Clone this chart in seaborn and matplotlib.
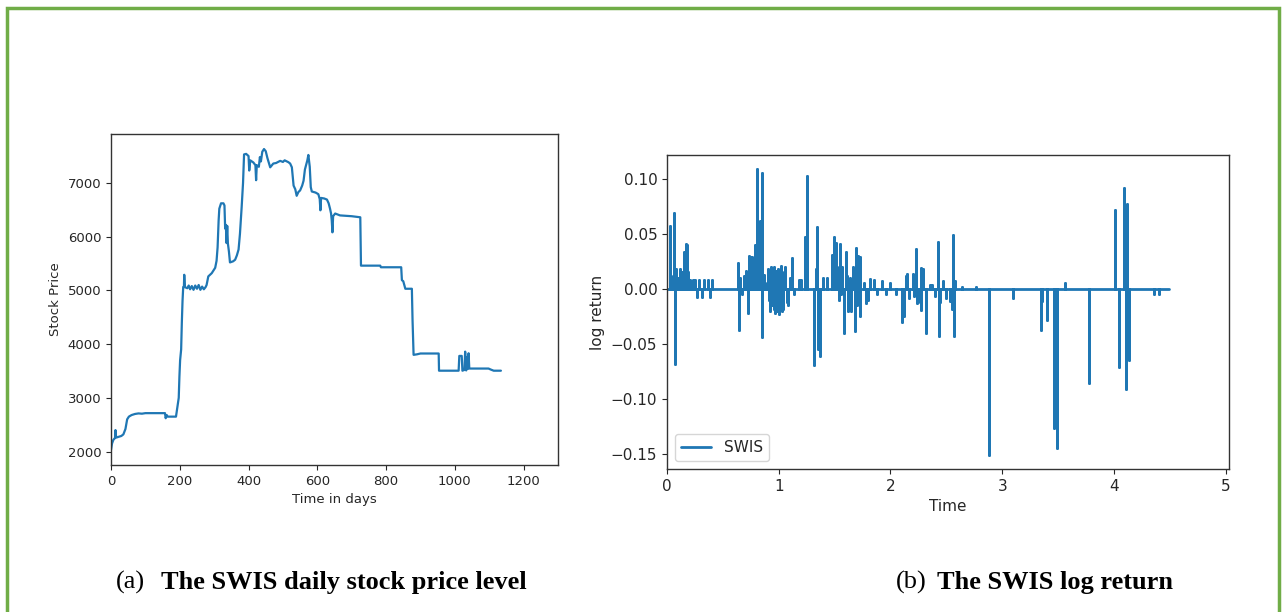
import matplotlib
matplotlib.use("Agg")
import matplotlib.pyplot as plt
from matplotlib.patches import Rectangle
import numpy as np
import pandas as pd
import seaborn as sns

# (a) daily stock price level (day, price)
price_day = [
    0, 3, 7, 10, 12, 13, 15, 20, 30, 36,
    42, 47, 52, 60, 70, 80, 90, 100, 130, 157,
    159, 162, 165, 189, 193, 197, 199, 201, 204, 206,
    208, 210, 212, 213, 215, 222, 226, 230, 235, 240,
    245, 250, 255, 260, 265, 270, 275, 278, 283, 293,
    303, 307, 310, 313, 315, 320, 327, 330, 332, 334,
    336, 338, 340, 343, 346, 355, 361, 366, 371, 375,
    380, 384, 387, 393, 400, 402, 405, 414, 420, 422,
    424, 430, 433, 436, 440, 445, 450, 455, 463, 472,
    480, 492, 500, 505, 516, 521, 526, 531, 536, 540,
    545, 550, 556, 560, 564, 568, 571, 574, 578, 581,
    584, 595, 603, 607, 609, 611, 620, 628, 633, 637,
    640, 642, 644, 646, 652, 660, 666, 700, 725, 727,
    783, 785, 844, 846, 850, 856, 875, 877, 880, 890,
    900, 953, 954, 1011, 1013, 1020, 1022, 1028, 1030, 1033,
    1036, 1038, 1040, 1042, 1098, 1105, 1113, 1134,
]
price_value = [
    2030, 2150, 2220, 2240, 2260, 2400, 2260, 2270, 2290, 2320,
    2420, 2600, 2650, 2680, 2700, 2710, 2705, 2715, 2715, 2715,
    2620, 2680, 2650, 2650, 2820, 3000, 3400, 3700, 3900, 4400,
    4800, 5060, 5060, 5290, 5060, 5040, 5090, 5020, 5080, 5010,
    5090, 5030, 5100, 5010, 5070, 5020, 5060, 5100, 5260, 5320,
    5420, 5550, 5800, 6300, 6520, 6620, 6620, 6580, 6150, 6220,
    5880, 6200, 5870, 5720, 5520, 5540, 5570, 5650, 5760, 6050,
    6550, 7000, 7530, 7540, 7500, 7230, 7420, 7380, 7330, 7050,
    7330, 7300, 7480, 7400, 7580, 7630, 7590, 7460, 7290, 7360,
    7370, 7410, 7390, 7420, 7385, 7360, 7290, 6950, 6880, 6760,
    6830, 6860, 6950, 7040, 7250, 7350, 7420, 7520, 7300, 6920,
    6840, 6820, 6790, 6700, 6490, 6720, 6710, 6690, 6620, 6520,
    6430, 6300, 6080, 6380, 6430, 6410, 6395, 6380, 6360, 5460,
    5460, 5430, 5430, 5190, 5170, 5030, 5030, 4440, 3800, 3810,
    3825, 3825, 3505, 3505, 3780, 3780, 3505, 3520, 3860, 3510,
    3760, 3540, 3830, 3545, 3545, 3525, 3505, 3505,
]

# (b) log return spikes (time, value); the series sits at zero in between
spike_time = [
    0.03, 0.05, 0.065, 0.068, 0.085, 0.10, 0.115, 0.135, 0.155, 0.17,
    0.18, 0.19, 0.21, 0.23, 0.25, 0.27, 0.29, 0.31, 0.33, 0.37,
    0.385, 0.40, 0.635, 0.64, 0.655, 0.67, 0.69, 0.705, 0.724, 0.74,
    0.76, 0.775, 0.805, 0.815, 0.83, 0.85, 0.853, 0.87, 0.88, 0.90,
    0.91, 0.93, 0.94, 0.96, 0.97, 0.99, 1.00, 1.02, 1.04, 1.06,
    1.08, 1.10, 1.12, 1.14, 1.18, 1.20, 1.236, 1.254, 1.313, 1.33,
    1.342, 1.35, 1.373, 1.40, 1.43, 1.478, 1.493, 1.517, 1.55, 1.56,
    1.583, 1.598, 1.62, 1.65, 1.679, 1.688, 1.709, 1.727, 1.73, 1.76,
    1.78, 1.80, 1.82, 1.85, 1.88, 1.92, 1.96, 2.00, 2.05, 2.107,
    2.12, 2.152, 2.17, 2.20, 2.215, 2.232, 2.24, 2.271, 2.275, 2.29,
    2.322, 2.35, 2.37, 2.40, 2.427, 2.43, 2.47, 2.50, 2.53, 2.561,
    2.565, 2.58, 2.64, 2.77, 2.879, 3.10, 3.348, 3.36, 3.402, 3.468,
    3.492, 3.558, 3.773, 4.013, 4.046, 4.088, 4.106, 4.121, 4.132, 4.36,
    4.401,
    # smaller moves in the busy stretches
    0.915, 0.925, 0.945, 0.955, 0.975, 0.985, 1.01, 1.03, 1.05, 1.07,
    1.505, 1.525, 1.535, 1.57, 1.61, 1.64, 1.665, 1.70, 0.045, 0.12,
    0.145, 0.165, 0.73, 0.79, 0.82, 0.84, 2.14, 2.25, 2.44, 2.55,
]
spike_value = [
    0.057, 0.012, 0.069, -0.068, 0.018, 0.010, 0.012, 0.015, 0.034, 0.041,
    0.040, 0.015, 0.008, 0.008, 0.008, -0.007, 0.008, -0.007, 0.008, 0.008,
    -0.007, 0.008, 0.024, -0.037, 0.010, -0.005, 0.012, 0.016, -0.022, 0.029,
    0.029, 0.015, 0.109, 0.050, 0.062, 0.106, -0.044, 0.013, 0.005, 0.018,
    -0.010, 0.020, -0.015, 0.020, -0.022, 0.018, -0.023, 0.021, -0.018, 0.020,
    -0.015, 0.010, 0.028, -0.005, 0.008, 0.008, 0.047, 0.103, -0.069, 0.018,
    0.056, -0.055, -0.061, 0.010, 0.010, 0.031, 0.047, 0.042, 0.041, -0.005,
    -0.040, 0.034, -0.020, -0.020, -0.038, 0.037, 0.030, -0.025, 0.029, 0.005,
    -0.013, -0.010, 0.009, 0.008, -0.005, 0.007, -0.005, 0.005, -0.005, -0.030,
    -0.025, 0.014, -0.008, 0.014, -0.006, 0.036, -0.013, 0.019, -0.019, 0.018,
    -0.040, 0.004, 0.004, -0.006, 0.043, -0.043, 0.007, -0.008, -0.011, 0.049,
    -0.043, 0.007, 0.002, 0.002, -0.151, -0.008, -0.037, -0.011, -0.028, -0.127,
    -0.145, 0.005, -0.086, 0.072, -0.071, 0.092, -0.091, 0.077, -0.065, -0.005,
    -0.005,
    0.015, -0.020, 0.012, -0.018, 0.016, -0.020, 0.012, -0.020, 0.015, -0.012,
    0.030, 0.020, -0.010, 0.020, 0.012, 0.010, 0.020, -0.015, 0.010, 0.018,
    0.012, 0.025, 0.030, 0.040, 0.045, 0.060, 0.012, -0.012, -0.012, -0.018,
]
return_start, return_end = 0.0, 4.49

# build the return series: baseline at zero, each spike up and back
ret_t = [return_start]
ret_v = [0.0]
for t, v in sorted(zip(spike_time, spike_value)):
    ret_t += [t, t, t]
    ret_v += [0.0, v, 0.0]
ret_t.append(return_end)
ret_v.append(0.0)

price_df = pd.DataFrame({"day": price_day, "price": price_value})
ret_df = pd.DataFrame({"Time": ret_t, "log return": ret_v})

sns.set_style("ticks")
plt.rcParams["font.family"] = ["DejaVu Sans"]

W, H = 1282, 612
fig = plt.figure(figsize=(W / 100, H / 100), dpi=100)
blue = "#1f77b4"

# left panel
ax1 = fig.add_axes([111 / W, 1 - 465 / H, 447 / W, 331 / H])
sns.lineplot(data=price_df, x="day", y="price", ax=ax1, color=blue,
             linewidth=1.6, estimator=None, sort=False)
ax1.set_xlim(0, 1300)
ax1.set_xlabel("Time in days", fontsize=9.5)
ax1.set_ylabel("Stock Price", fontsize=9.5)
ax1.tick_params(labelsize=9.5)

# right panel
ax2 = fig.add_axes([667 / W, 1 - 469 / H, 562 / W, 314 / H])
sns.lineplot(data=ret_df, x="Time", y="log return", ax=ax2, color=blue,
             linewidth=2.0, estimator=None, sort=False, label="SWIS")
ax2.set_xlim(0, 5.03)
ax2.set_xlabel("Time", fontsize=11)
ax2.set_ylabel("log return", fontsize=11)
ax2.tick_params(labelsize=11)
ax2.legend(loc="lower left", fontsize=11)

for ax in (ax1, ax2):
    for s in ax.spines.values():
        s.set_color("#333333")
        s.set_linewidth(1.0)

# captions
cap_y = 1 - 582 / H
fig.text(116 / W, cap_y, "(a)", family="Liberation Serif", fontsize=19,
         va="center", color="black")
fig.text(161 / W, cap_y, "The SWIS daily stock price level", family="Liberation Serif",
         fontsize=19, fontweight="bold", va="center", color="black")
fig.text(896 / W, cap_y, "(b)", family="Liberation Serif", fontsize=19,
         va="center", color="black")
fig.text(937 / W, cap_y, "The SWIS log return", family="Liberation Serif",
         fontsize=19, fontweight="bold", va="center", color="black")

# green frame around the figure
fig.add_artist(Rectangle((7 / W, -0.02), (1279 - 7) / W, 1.02 - 8 / H, fill=False,
                         edgecolor="#70ad47", linewidth=2.5, transform=fig.transFigure,
                         clip_on=False))

fig.savefig("out.png", dpi=100)
